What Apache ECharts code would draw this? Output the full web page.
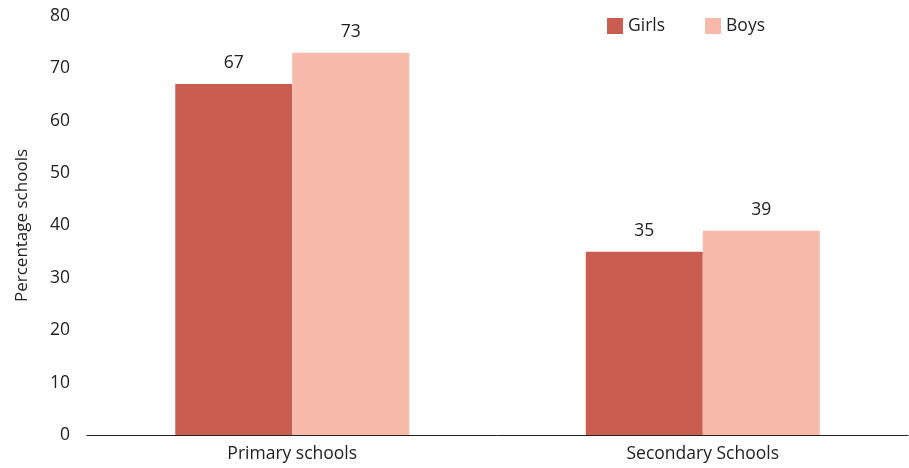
<!DOCTYPE html>
<html><head><meta charset="utf-8">
<script src="https://cdn.jsdelivr.net/npm/echarts@6/dist/echarts.min.js"></script>
<style>html,body{margin:0;padding:0;background:#fff}#c{width:909px;height:468px}</style>
</head><body><div id="c"></div>
<script>
const categories = ['Primary schools', 'Secondary Schools'];
const girls = [67, 35];
const boys = [73, 39];
const yTicks = [0, 10, 20, 30, 40, 50, 60, 70, 80];

const font = '"Open Sans", "Noto Sans", sans-serif';
const fs = 17.5;
const chart = echarts.init(document.getElementById('c'), null, {renderer: 'canvas'});
chart.setOption({
  animation: false,
  textStyle: {fontFamily: font},
  grid: {left: 87, right: 1, top: 16, bottom: 33},
  legend: {
    top: 12, left: 602,
    itemWidth: 16, itemHeight: 16, itemGap: 40,
    icon: 'rect',
    textStyle: {fontSize: fs, color: '#222', fontFamily: font, padding: [0, 0, 0, 0]},
    data: ['Girls', 'Boys']
  },
  xAxis: {
    type: 'category', data: categories,
    axisLine: {lineStyle: {color: '#222', width: 1}},
    axisTick: {show: false},
    axisLabel: {fontSize: fs, color: '#222', fontFamily: font, margin: 10}
  },
  yAxis: {
    type: 'value', min: yTicks[0], max: yTicks[yTicks.length - 1], interval: 10,
    name: 'Percentage schools', nameLocation: 'middle', nameGap: 56,
    nameTextStyle: {fontSize: fs - 0.5, color: '#222', fontFamily: font},
    axisLine: {show: false}, axisTick: {show: false}, splitLine: {show: false},
    axisLabel: {fontSize: fs, color: '#222', fontFamily: font, margin: 17}
  },
  series: [
    {name: 'Girls', type: 'bar', data: girls, barGap: '0%', barCategoryGap: '43%',
     itemStyle: {color: '#C95D4F'},
     label: {show: true, position: 'top', distance: 12, fontSize: fs, color: '#222', fontFamily: font}},
    {name: 'Boys', type: 'bar', data: boys,
     itemStyle: {color: '#F7B9AA'},
     label: {show: true, position: 'top', distance: 12, fontSize: fs, color: '#222', fontFamily: font}}
  ]
});
</script></body></html>
